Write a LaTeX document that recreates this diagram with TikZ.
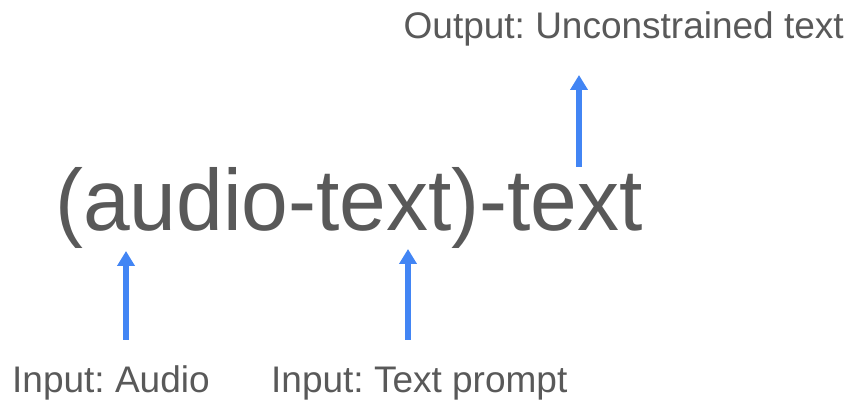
\documentclass[tikz,border=0pt]{standalone}
\usepackage{fontspec}
\setmainfont{Liberation Sans}
\usetikzlibrary{arrows.meta}
\definecolor{labelgray}{HTML}{595959}
\definecolor{arrowblue}{HTML}{4285F4}
\frenchspacing
\begin{document}
\begin{tikzpicture}[x=1pt,y=1pt,
  bigtext/.style={inner sep=0pt, text=labelgray, font=\fontsize{87}{90}\selectfont, xscale=0.965},
  caption/.style={inner sep=0pt, text=labelgray, font=\fontsize{37}{40}\selectfont},
  pointer/.style={draw=arrowblue, line width=5.5pt, -{Triangle[width=17pt,length=15pt]}}]
  \useasboundingbox (0,0) rectangle (847,401);

  % task notation
  \node[bigtext, anchor=base] (task) at (349,170) {(audio-text)-text};

  % captions
  \node[caption, anchor=base west] (audio) at (12,8) {Input: Audio};
  \node[caption, anchor=base west] (prompt) at (271,8) {Input: Text prompt};
  \node[caption, anchor=base east] (output) at (844,362) {Output: Unconstrained text};

  % arrow end points
  \coordinate (audiotail) at (126,61);
  \coordinate (audiotip) at (126,150);
  \coordinate (prompttail) at (408,61);
  \coordinate (prompttip) at (408,152);
  \coordinate (outtail) at (579,234);
  \coordinate (outtip) at (579,326);

  \draw[pointer] (audiotail) -- (audiotip);
  \draw[pointer] (prompttail) -- (prompttip);
  \draw[pointer] (outtail) -- (outtip);
\end{tikzpicture}
\end{document}
